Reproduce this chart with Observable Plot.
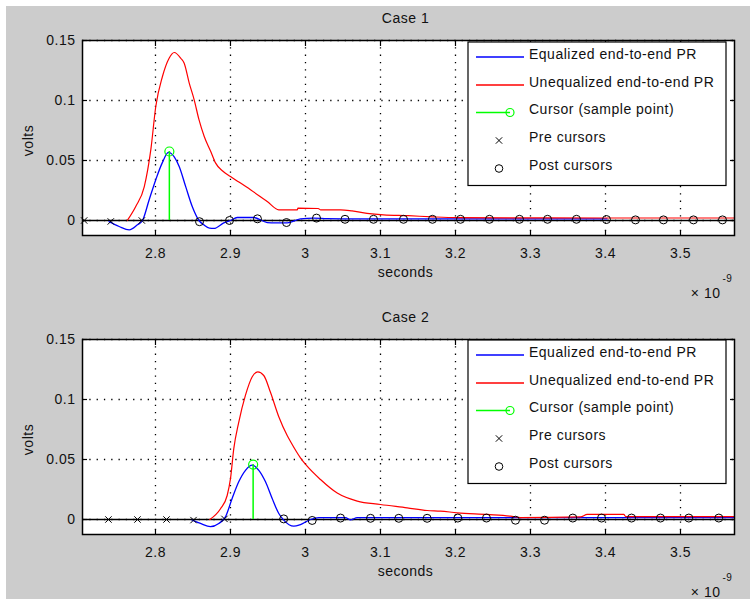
<!DOCTYPE html>
<html>
<head>
<meta charset="utf-8">
<script src="https://cdn.jsdelivr.net/npm/d3@7"></script>
<script src="https://cdn.jsdelivr.net/npm/@observablehq/plot@0.6"></script>
<style>
  body { margin: 0; background: #ffffff; }
  #fig { position: relative; width: 750px; height: 605px; overflow: hidden; }
  #bg { position: absolute; left: 6px; top: 6px; width: 744px; height: 593px; background: #cccccc; }
  .panel { position: absolute; left: 0; }
  .panel svg { display: block; }
</style>
</head>
<body>
<div id="fig"><div id="bg"></div></div>
<script>
// ---------- ticks ----------
const xTicks = [2.8, 2.9, 3, 3.1, 3.2, 3.3, 3.4, 3.5];
const xTickLabels = ["2.8", "2.9", "3", "3.1", "3.2", "3.3", "3.4", "3.5"];
const yTicks = [0, 0.05, 0.1, 0.15];
const yTickLabels = ["0", "0.05", "0.1", "0.15"];
const xDomain = [2.7027, 3.572];
const yDomain = [-0.0125, 0.15];

const legendLabels = ["Equalized end-to-end PR", "Unequalized end-to-end PR", "Cursor (sample point)", "Pre cursors", "Post cursors"];
const titles = ["Case 1", "Case 2"];

// ---------- Case 1 ----------
const case1EqT = [2.738, 2.7516, 2.765, 2.776, 2.7827, 2.7916, 2.8004, 2.809, 2.8173, 2.825, 2.8316, 2.8404, 2.849, 2.858, 2.8644, 2.872, 2.878, 2.891, 2.9, 2.909, 2.931, 2.949, 2.96, 2.9756, 2.9933, 3.011, 3.029, 3.05, 3.1, 3.2, 3.3, 3.402];
const case1EqV = [-0.001, -0.005, -0.0078, -0.0036, 0, 0.0173, 0.034, 0.048, 0.0567, 0.053, 0.045, 0.028, 0.0117, 0, -0.0036, -0.0064, -0.0066, -0.002, 0, 0.0025, 0.0025, -0.0017, -0.002, -0.002, 0.0014, 0.002, 0.0015, 0.0014, 0.0014, 0.0013, 0.0013, 0.0013];
const case1UneqT = [2.7627, 2.7737, 2.785, 2.7938, 2.8004, 2.8093, 2.818, 2.825, 2.834, 2.8383, 2.845, 2.8516, 2.858, 2.865, 2.8737, 2.88, 2.89, 2.9, 2.9267, 2.949, 2.9644, 2.989, 2.99, 3.017, 3.02, 3.047, 3.062, 3.082, 3.104, 3.137, 3.17, 3.202, 3.3, 3.4, 3.572];
const case1UneqV = [0.0003, 0.0117, 0.028, 0.059, 0.095, 0.12, 0.135, 0.14, 0.135, 0.131, 0.1145, 0.1006, 0.084, 0.07, 0.0575, 0.048, 0.041, 0.0367, 0.0256, 0.0158, 0.0089, 0.0089, 0.0103, 0.01, 0.0089, 0.0089, 0.008, 0.006, 0.0047, 0.004, 0.003, 0.0024, 0.0022, 0.0021, 0.0021];
const case1PreT = [2.7049, 2.7404, 2.7818];
const case1PreV = [0, -0.0008, 0];
const case1CursorT = [2.8185];
const case1CursorV = [0.0575];
const case1PostT = [2.8587, 2.8987, 2.936, 2.9747, 3.0147, 3.0527, 3.0907, 3.1307, 3.1693, 3.2067, 3.2453, 3.2853, 3.3227, 3.3613, 3.4013, 3.44, 3.4773, 3.5173, 3.556];
const case1PostV = [-0.001, 0, 0.0014, -0.0017, 0.002, 0.001, 0.001, 0.001, 0.001, 0.001, 0.001, 0.001, 0.001, 0.001, 0.0008, 0.0005, 0.0005, 0.0005, 0.0005];

// ---------- Case 2 ----------
const case2EqT = [2.849, 2.86, 2.8733, 2.8844, 2.8933, 2.9022, 2.911, 2.92, 2.929, 2.9378, 2.9467, 2.9556, 2.9644, 2.971, 2.9844, 2.9933, 3.0067, 3.0178, 3.0533, 3.06, 3.069, 3.2, 3.4, 3.571];
const case2EqV = [-0.0005, -0.0033, -0.006, -0.0033, 0.0022, 0.0175, 0.0314, 0.041, 0.0453, 0.041, 0.0314, 0.0175, 0.005, -0.0005, -0.0056, -0.0042, 0, 0.0016, 0.0016, -0.0003, 0.0016, 0.0015, 0.0015, 0.0015];
const case2UneqT = [2.8724, 2.8867, 2.8956, 2.9, 2.9044, 2.911, 2.92, 2.929, 2.9364, 2.9444, 2.9533, 2.9644, 2.9756, 2.98, 2.9933, 3.0022, 3.02, 3.0423, 3.069, 3.1, 3.1356, 3.1622, 3.18, 3.2022, 3.2422, 3.2733, 3.2867, 3.3667, 3.3756, 3.4244, 3.427, 3.571];
const case2UneqV = [0, 0.009, 0.02, 0.034, 0.059, 0.081, 0.1036, 0.119, 0.123, 0.12, 0.106, 0.0856, 0.07, 0.065, 0.0514, 0.0444, 0.0333, 0.022, 0.0153, 0.0125, 0.0097, 0.0075, 0.007, 0.0056, 0.0042, 0.0028, 0.0016, 0.0022, 0.0042, 0.0042, 0.0024, 0.0024];
const case2PreT = [2.7373, 2.776, 2.8147, 2.8507, 2.892];
const case2PreV = [0, 0, 0, -0.0005, 0.0005];
const case2CursorT = [2.9302];
const case2CursorV = [0.0458];
const case2PostT = [2.971, 3.0089, 3.0467, 3.0867, 3.1244, 3.1622, 3.2031, 3.2413, 3.28, 3.3187, 3.3564, 3.3947, 3.4347, 3.4733, 3.5111, 3.5511];
const case2PostV = [0.0005, -0.0008, 0.0012, 0.001, 0.001, 0.001, 0.0012, 0.0012, -0.0006, -0.0006, 0.0012, 0.0012, 0.0012, 0.0012, 0.0012, 0.0012];

// ---------- helpers ----------
const FONT = "'Liberation Sans', Arial, Helvetica, sans-serif";
const INK = "#111111";
const xLabel = new Map(xTicks.map((t, i) => [t, xTickLabels[i]]));
const yLabel = new Map(yTicks.map((t, i) => [t, yTickLabels[i]]));
const zip = (ts, vs) => ts.map((t, i) => ({t, v: vs[i]}));

function panel(c) {
  const eq = zip(c.eqT, c.eqV);
  const uneq = zip(c.uneqT, c.uneqV);
  const pre = zip(c.preT, c.preV);
  const post = zip(c.postT, c.postV);
  const cur = zip(c.curT, c.curV);
  const grid = {stroke: "black", strokeOpacity: 1, strokeWidth: 1.3, strokeDasharray: "1.3,6"};
  const tickOpts = {tickSize: -5, tickFormat: () => "", label: null, stroke: "black", strokeWidth: 1.2};
  return Plot.plot({
    width: 750,
    height: c.height,
    marginLeft: 82,
    marginRight: 16,
    marginTop: c.mt,
    marginBottom: c.mb,
    x: {domain: xDomain},
    y: {domain: yDomain},
    style: {background: "transparent", fontFamily: FONT, fontSize: "14px", color: INK, overflow: "visible", letterSpacing: "0.5px"},
    marks: [
      Plot.frame({fill: "white", stroke: "none"}),
      Plot.gridX(xTicks, grid),
      Plot.gridY(yTicks, grid),
      Plot.ruleY([0], {stroke: "black", strokeWidth: 1.5}),
      Plot.line(eq, {x: "t", y: "v", stroke: "#0000ff", strokeWidth: 1.3, curve: "monotone-x"}),
      Plot.line(uneq, {x: "t", y: "v", stroke: "#ff0000", strokeWidth: 1.2, curve: "monotone-x"}),
      Plot.ruleX(cur, {x: "t", y1: 0, y2: "v", stroke: "#00ff00", strokeWidth: 1.5}),
      Plot.dot(cur, {x: "t", y: "v", r: 4.5, stroke: "#00ff00", fill: "none", strokeWidth: 1.2}),
      Plot.dot(pre, {x: "t", y: "v", symbol: "times", r: 3, stroke: "black", strokeWidth: 1}),
      Plot.dot(post, {x: "t", y: "v", r: 4, stroke: "black", fill: "none", strokeWidth: 1}),
      Plot.axisX(xTicks, {anchor: "bottom", ...tickOpts}),
      Plot.axisX(xTicks, {anchor: "top", ...tickOpts}),
      Plot.axisY(yTicks, {anchor: "left", ...tickOpts}),
      Plot.axisY(yTicks, {anchor: "right", ...tickOpts}),
      Plot.axisX(xTicks, {anchor: "bottom", tickSize: 0, tickPadding: 13, tickFormat: d => xLabel.get(d), label: null, fontSize: 14, fill: INK}),
      Plot.axisY(yTicks, {anchor: "left", tickSize: 0, tickPadding: 7, tickFormat: d => yLabel.get(d), label: null, fontSize: 14, fill: INK}),
      Plot.frame({stroke: "black", strokeWidth: 1.5}),
      Plot.text([c.title], {text: d => d, frameAnchor: "top", dx: -3, dy: -22, lineAnchor: "middle", fontSize: 14, fill: INK}),
      Plot.text(["volts"], {text: d => d, frameAnchor: "left", rotate: -90, dx: -54, dy: 2.5, textAnchor: "middle", lineAnchor: "middle", fontSize: 14, fill: INK}),
      Plot.text(["seconds"], {text: d => d, frameAnchor: "bottom", dx: -3, dy: 37.5, lineAnchor: "middle", fontSize: 14, fill: INK}),
      Plot.text(["× 10"], {text: d => d, frameAnchor: "bottom-right", dx: -14, dy: 58.5, textAnchor: "end", lineAnchor: "middle", fontSize: 14, fill: INK}),
      Plot.text(["-9"], {text: d => d, frameAnchor: "bottom-right", dx: -12, dy: 43.5, textAnchor: "start", lineAnchor: "middle", fontSize: 10, fill: INK})
    ]
  });
}

function addPanel(svg, top) {
  const div = document.createElement("div");
  div.className = "panel";
  div.style.top = top + "px";
  div.appendChild(svg);
  document.getElementById("fig").appendChild(div);
}

function addLegend(top) {
  const svg = d3.select("#fig").append("svg")
    .style("position", "absolute").style("left", "466px").style("top", (top - 2) + "px")
    .attr("width", 264).attr("height", 150)
    .style("font-family", FONT).style("font-size", "14px").style("letter-spacing", "0.5px");
  const g = svg.append("g").attr("transform", "translate(2,2)");
  g.append("rect").attr("x", 0).attr("y", 0).attr("width", 258).attr("height", 143.5)
    .attr("fill", "white").attr("stroke", "black").attr("stroke-width", 1.2);
  const sampleY = [15, 43, 70.5, 98.5, 126.5];
  const baseY = [16.5, 44.5, 72, 100, 128];
  legendLabels.forEach((lab, i) => {
    g.append("text").attr("x", 61).attr("y", baseY[i]).attr("fill", INK).text(lab);
  });
  g.append("line").attr("x1", 8).attr("x2", 56).attr("y1", sampleY[0]).attr("y2", sampleY[0]).attr("stroke", "#0000ff").attr("stroke-width", 1.5);
  g.append("line").attr("x1", 8).attr("x2", 56).attr("y1", sampleY[1]).attr("y2", sampleY[1]).attr("stroke", "#ff0000").attr("stroke-width", 1.5);
  g.append("line").attr("x1", 8).attr("x2", 42).attr("y1", sampleY[2]).attr("y2", sampleY[2]).attr("stroke", "#00ff00").attr("stroke-width", 1.5);
  g.append("circle").attr("cx", 42).attr("cy", sampleY[2]).attr("r", 4).attr("fill", "none").attr("stroke", "#00ff00").attr("stroke-width", 1.2);
  g.append("path").attr("d", d3.symbol(d3.symbolTimes, 28)()).attr("transform", `translate(31,${sampleY[3]})`).attr("fill", "none").attr("stroke", "black").attr("stroke-width", 1);
  g.append("circle").attr("cx", 31).attr("cy", sampleY[4]).attr("r", 3.8).attr("fill", "none").attr("stroke", "black").attr("stroke-width", 1);
}

addPanel(panel({
  title: titles[0], height: 300, mt: 40, mb: 65,
  eqT: case1EqT, eqV: case1EqV, uneqT: case1UneqT, uneqV: case1UneqV,
  preT: case1PreT, preV: case1PreV, postT: case1PostT, postV: case1PostV,
  curT: case1CursorT, curV: case1CursorV
}), 0);

addPanel(panel({
  title: titles[1], height: 305, mt: 39, mb: 71,
  eqT: case2EqT, eqV: case2EqV, uneqT: case2UneqT, uneqV: case2UneqV,
  preT: case2PreT, preV: case2PreV, postT: case2PostT, postV: case2PostV,
  curT: case2CursorT, curV: case2CursorV
}), 300);

addLegend(41.5);
addLegend(340);
</script>
</body>
</html>
